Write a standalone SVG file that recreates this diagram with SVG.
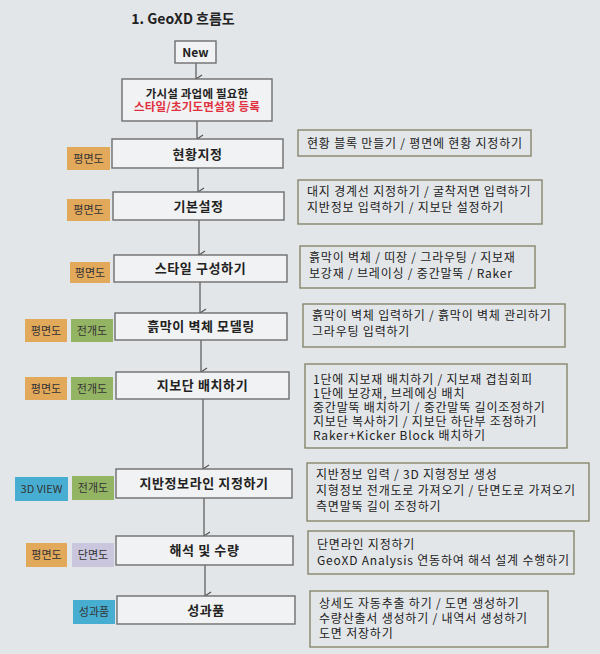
<svg xmlns="http://www.w3.org/2000/svg" width="600" height="654" viewBox="0 0 600 654">
<defs>
<marker id="ah" markerWidth="10" markerHeight="10" refX="5" refY="8" orient="auto" markerUnits="userSpaceOnUse">
<path d="M1,2 L5,8 L9,2" fill="none" stroke="#555" stroke-width="1.2"/>
</marker>
<style>
text{font-family:"Noto Sans CJK KR","Noto Sans",sans-serif;fill:#222}
.title{font-size:14px;font-weight:bold;text-anchor:middle}
.box{fill:#f1f2f3;stroke:#6e6e6e;stroke-width:1.4}
.lbl{font-size:13px;font-weight:bold;text-anchor:middle;letter-spacing:0.6px}
.sm{font-size:11.5px;letter-spacing:0.2px}
.red{fill:#e0303f}
.note{fill:none;stroke:#85866a;stroke-width:1.4}
.nt{font-size:12px;letter-spacing:0.8px}
.tag{font-size:11px;text-anchor:middle;fill:#333}
.or{fill:#e2a95b}
.gr{fill:#93b463}
.bl{fill:#47aed2}
.lv{fill:#cac6dd}
.cn{stroke:#555;stroke-width:1.2;fill:none;marker-end:url(#ah)}
</style>
</defs>
<rect width="600" height="654" fill="#e3e6e9"/>
<text class="title" x="183" y="24">1. GeoXD 흐름도</text>

<g id="connectors">
<line class="cn" x1="196" y1="63" x2="196" y2="79"/>
<line class="cn" x1="197" y1="121" x2="197" y2="139"/>
<line class="cn" x1="198" y1="168" x2="198" y2="192"/>
<line class="cn" x1="199" y1="220" x2="199" y2="255"/>
<line class="cn" x1="200" y1="282" x2="200" y2="313"/>
<line class="cn" x1="201" y1="340" x2="201" y2="372"/>
<line class="cn" x1="203" y1="399" x2="203" y2="469"/>
<line class="cn" x1="204" y1="498" x2="204" y2="536"/>
<line class="cn" x1="205" y1="565" x2="205" y2="596"/>
</g>

<g id="new">
<rect class="box" x="175" y="41" width="41" height="22"/>
<text class="lbl" x="195.5" y="56.5" style="font-size:12px;letter-spacing:0">New</text>
</g>

<g id="setup">
<rect class="box" x="122" y="79" width="150" height="42"/>
<text class="lbl sm" x="197" y="98">가시설 과업에 필요한</text>
<text class="lbl sm red" x="197" y="111">스타일/초기도면설정 등록</text>
</g>

<g id="step1">
<rect class="or" x="67" y="147" width="43" height="23"/>
<text class="tag" x="88.5" y="162.5">평면도</text>
<rect class="box" x="112" y="139" width="171" height="29"/>
<text class="lbl" x="197.5" y="158.5">현황지정</text>
<rect class="note" x="298" y="130" width="233" height="26"/>
<text class="nt" x="307" y="147.5">현황 블록 만들기 / 평면에 현황 지정하기</text>
</g>

<g id="step2">
<rect class="or" x="67" y="199" width="43" height="22"/>
<text class="tag" x="88.5" y="214">평면도</text>
<rect class="box" x="113" y="192" width="171" height="28"/>
<text class="lbl" x="198.5" y="210.5">기본설정</text>
<rect class="note" x="298" y="180" width="244" height="44"/>
<text class="nt" x="307" y="196">대지 경계선 지정하기 / 굴착저면 입력하기</text>
<text class="nt" x="307" y="212">지반정보 입력하기 / 지보단 설정하기</text>
</g>

<g id="step3">
<rect class="or" x="70" y="262" width="40" height="21"/>
<text class="tag" x="90" y="276.5">평면도</text>
<rect class="box" x="114" y="255" width="173" height="27"/>
<text class="lbl" x="200.5" y="273">스타일 구성하기</text>
<rect class="note" x="300" y="246" width="235" height="42"/>
<text class="nt" x="309" y="261.5">흙막이 벽체 / 띠장 / 그라우팅 / 지보재</text>
<text class="nt" x="309" y="277.5">보강재 / 브레이싱 / 중간말뚝 / Raker</text>
</g>

<g id="step4">
<rect class="or" x="25" y="319" width="42" height="23"/>
<text class="tag" x="46" y="334.5">평면도</text>
<rect class="gr" x="71" y="319" width="42" height="23"/>
<text class="tag" x="92" y="334.5">전개도</text>
<rect class="box" x="115" y="313" width="172" height="27"/>
<text class="lbl" x="201" y="331">흙막이 벽체 모델링</text>
<rect class="note" x="303" y="304" width="262" height="43"/>
<text class="nt" x="312" y="320">흙막이 벽체 입력하기 / 흙막이 벽체 관리하기</text>
<text class="nt" x="312" y="336">그라우팅 입력하기</text>
</g>

<g id="step5">
<rect class="or" x="25" y="377" width="42" height="23"/>
<text class="tag" x="46" y="392.5">평면도</text>
<rect class="gr" x="71" y="377" width="42" height="23"/>
<text class="tag" x="92" y="392.5">전개도</text>
<rect class="box" x="116" y="372" width="173" height="27"/>
<text class="lbl" x="202.5" y="390">지보단 배치하기</text>
<rect class="note" x="305" y="364" width="262" height="84"/>
<text class="nt" x="313" y="384">1단에 지보재 배치하기 / 지보재 겹침회피</text>
<text class="nt" x="313" y="398">1단에 보강재, 브레에싱 배치</text>
<text class="nt" x="313" y="412">중간말뚝 배치하기 / 중간말뚝 길이조정하기</text>
<text class="nt" x="313" y="426">지보단 복사하기 / 지보단 하단부 조정하기</text>
<text class="nt" x="313" y="440">Raker+Kicker Block 배치하기</text>
</g>

<g id="step6">
<rect class="bl" x="15" y="477" width="53" height="24"/>
<text class="tag" x="41.5" y="493">3D VIEW</text>
<rect class="gr" x="72" y="476" width="42" height="24"/>
<text class="tag" x="93" y="492">전개도</text>
<rect class="box" x="116" y="469" width="176" height="29"/>
<text class="lbl" x="204" y="488">지반정보라인 지정하기</text>
<rect class="note" x="307" y="463" width="282" height="58"/>
<text class="nt" x="316" y="479">지반정보 입력 / 3D 지형정보 생성</text>
<text class="nt" x="316" y="495">지형정보 전개도로 가져오기 / 단면도로 가져오기</text>
<text class="nt" x="316" y="511">측면말뚝 길이 조정하기</text>
</g>

<g id="step7">
<rect class="or" x="26" y="543" width="41" height="24"/>
<text class="tag" x="46.5" y="559">평면도</text>
<rect class="lv" x="72" y="543" width="42" height="24"/>
<text class="tag" x="93" y="559">단면도</text>
<rect class="box" x="116" y="536" width="177" height="29"/>
<text class="lbl" x="204.5" y="555">해석 및 수량</text>
<rect class="note" x="308" y="531" width="266" height="43"/>
<text class="nt" x="317" y="549">단면라인 지정하기</text>
<text class="nt" x="317" y="565">GeoXD Analysis 연동하여 해석 설계 수행하기</text>
</g>

<g id="step8">
<rect class="bl" x="73" y="600" width="42" height="24"/>
<text class="tag" x="94" y="616">성과품</text>
<rect class="box" x="117" y="596" width="178" height="28"/>
<text class="lbl" x="206" y="614.5">성과품</text>
<rect class="note" x="310" y="591" width="238" height="56"/>
<text class="nt" x="319" y="608">상세도 자동추출 하기 / 도면 생성하기</text>
<text class="nt" x="319" y="623">수량산출서 생성하기 / 내역서 생성하기</text>
<text class="nt" x="319" y="638">도면 저장하기</text>
</g>
</svg>
